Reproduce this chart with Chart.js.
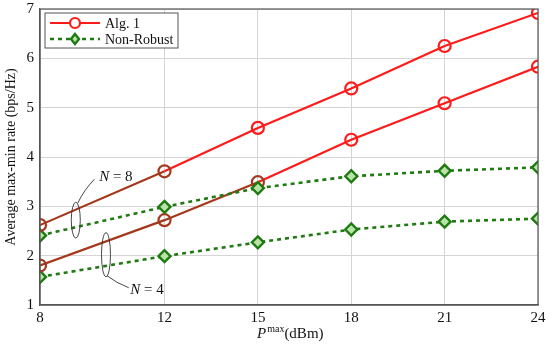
<!DOCTYPE html>
<html>
<head>
<meta charset="utf-8">
<script src="https://cdn.jsdelivr.net/npm/chart.js@4/dist/chart.umd.min.js"></script>
<style>
  html, body { margin: 0; padding: 0; background: #fff; }
  #wrap { width: 550px; height: 347px; position: relative; }
</style>
</head>
<body>
<div id="wrap"><canvas id="chart"></canvas></div>
<script>
// 데이터
const powerDbm = [8, 12, 15, 18, 21, 24];
const alg1N8 = [2.62, 3.71, 4.59, 5.39, 6.25, 6.92];
const alg1N4 = [1.80, 2.72, 3.49, 4.35, 5.09, 5.83];
const nonRobustN8 = [2.41, 2.99, 3.37, 3.61, 3.72, 3.79];
const nonRobustN4 = [1.57, 1.99, 2.27, 2.53, 2.69, 2.75];
const yTicks = [1, 2, 3, 4, 5, 6, 7];

const FONT = '"Liberation Serif", "DejaVu Serif", serif';
const RED = '#ff1a1a';
const BROWN = '#a5381c';
const GREEN = '#1f7a12';

const toPoints = (ys) => powerDbm.map((x, i) => ({ x: x, y: ys[i] }));

// 왼쪽 구간은 갈색으로 보임 (원본 그림 그대로)
function redSeries(label, ys, brownUntil) {
    return {
        label: label,
        data: toPoints(ys),
        borderColor: RED,
        borderWidth: 2.2,
        pointStyle: 'circle',
        pointRadius: 6,
        pointBorderWidth: 2.2,
        pointBackgroundColor: 'rgba(255,255,255,0)',
        pointBorderColor: ctx => (ctx.raw && ctx.raw.x <= brownUntil) ? BROWN : RED,
        segment: {
            borderColor: ctx => ctx.p1.parsed.x <= brownUntil ? BROWN : RED
        },
        tension: 0
    };
}

function greenSeries(label, ys) {
    return {
        label: label,
        data: toPoints(ys),
        borderColor: GREEN,
        borderWidth: 2.6,
        borderDash: [4, 4],
        pointStyle: 'rectRot',
        pointRadius: 6,
        pointBorderWidth: 2.4,
        pointBackgroundColor: '#b9e3a8',
        pointBorderColor: GREEN,
        tension: 0
    };
}

// 테두리, 범례, 축 제목, 주석
const decorPlugin = {
    id: 'decor',
    afterDraw(chart) {
        const { ctx, chartArea: a, scales } = chart;
        const xs = scales.x, ys = scales.y;
        ctx.save();

        // 플롯 테두리
        ctx.strokeStyle = '#555';
        ctx.lineWidth = 1.2;
        ctx.strokeRect(a.left, a.top, a.right - a.left, a.bottom - a.top);

        // 범례
        const lx = a.left + 5, ly = a.top + 4, lw = 133, lh = 35;
        ctx.fillStyle = '#fff';
        ctx.fillRect(lx, ly, lw, lh);
        ctx.strokeStyle = '#555';
        ctx.lineWidth = 1;
        ctx.strokeRect(lx, ly, lw, lh);

        ctx.font = '14px ' + FONT;
        ctx.textBaseline = 'middle';
        ctx.textAlign = 'left';

        let yy = ly + 10;
        ctx.strokeStyle = RED; ctx.lineWidth = 2.2; ctx.setLineDash([]);
        ctx.beginPath(); ctx.moveTo(lx + 5, yy); ctx.lineTo(lx + 55, yy); ctx.stroke();
        ctx.fillStyle = '#fff';
        ctx.beginPath(); ctx.arc(lx + 30, yy, 5, 0, Math.PI * 2); ctx.fill(); ctx.stroke();
        ctx.fillStyle = '#111';
        ctx.fillText('Alg. 1', lx + 60, yy + 1);

        yy = ly + 26;
        ctx.strokeStyle = GREEN; ctx.lineWidth = 2.6; ctx.setLineDash([4, 4]);
        ctx.beginPath(); ctx.moveTo(lx + 5, yy); ctx.lineTo(lx + 55, yy); ctx.stroke();
        ctx.setLineDash([]); ctx.lineWidth = 2.4;
        ctx.fillStyle = '#b9e3a8';
        ctx.beginPath();
        ctx.moveTo(lx + 30, yy - 5); ctx.lineTo(lx + 34, yy); ctx.lineTo(lx + 30, yy + 5); ctx.lineTo(lx + 26, yy);
        ctx.closePath(); ctx.fill(); ctx.stroke();
        ctx.fillStyle = '#111';
        ctx.fillText('Non-Robust', lx + 60, yy + 1);

        // x축 제목: P^max(dBm)
        const tx = (a.left + a.right) / 2 - 32, ty = a.bottom + 29;
        ctx.fillStyle = '#111';
        ctx.font = 'italic 15px ' + FONT;
        ctx.fillText('P', tx, ty);
        let w = ctx.measureText('P').width;
        ctx.font = '10px ' + FONT;
        ctx.fillText('max', tx + w + 1, ty - 5);
        w += ctx.measureText('max').width + 1;
        ctx.font = '15px ' + FONT;
        ctx.fillText('(dBm)', tx + w, ty);

        // y축 제목
        ctx.save();
        ctx.translate(11, (a.top + a.bottom) / 2);
        ctx.rotate(-Math.PI / 2);
        ctx.textAlign = 'center';
        ctx.font = '14px ' + FONT;
        ctx.fillText('Average max-min rate (bps/Hz)', 0, 0);
        ctx.restore();

        // 주석: 타원 + 지시선 + 라벨
        const px = v => xs.getPixelForValue(v);
        const py = v => ys.getPixelForValue(v);
        ctx.strokeStyle = '#333';
        ctx.lineWidth = 0.9;

        // N = 8
        let ex = px(9.15), ey = py(2.72);
        ctx.beginPath(); ctx.ellipse(ex, ey, 4.5, 18, 0, 0, Math.PI * 2); ctx.stroke();
        ctx.beginPath(); ctx.moveTo(ex + 2, ey - 17);
        ctx.quadraticCurveTo(ex + 8, ey - 30, px(9.75), py(3.55)); ctx.stroke();
        drawNLabel(ctx, px(9.9), py(3.6), '8');

        // N = 4
        ex = px(10.12); ey = py(2.02);
        ctx.beginPath(); ctx.ellipse(ex, ey, 4.5, 22, 0, 0, Math.PI * 2); ctx.stroke();
        ctx.beginPath(); ctx.moveTo(ex + 1, ey + 21);
        ctx.quadraticCurveTo(ex + 10, py(1.45), px(10.85), py(1.35)); ctx.stroke();
        drawNLabel(ctx, px(10.9), py(1.3), '4');

        ctx.restore();
    }
};

function drawNLabel(ctx, x, y, n) {
    ctx.fillStyle = '#111';
    ctx.textAlign = 'left';
    ctx.textBaseline = 'middle';
    ctx.font = 'italic 15px ' + FONT;
    ctx.fillText('N', x, y);
    const w = ctx.measureText('N').width;
    ctx.font = '15px ' + FONT;
    ctx.fillText(' = ' + n, x + w, y);
}

new Chart(document.getElementById('chart'), {
    type: 'line',
    data: {
        datasets: [
            redSeries('Alg. 1', alg1N8, 12),
            greenSeries('Non-Robust', nonRobustN8),
            redSeries('Alg. 1 (N=4)', alg1N4, 15),
            greenSeries('Non-Robust (N=4)', nonRobustN4)
        ]
    },
    options: {
        responsive: true,
        maintainAspectRatio: false,
        animation: false,
        layout: { padding: { left: 0, right: 12, top: 9, bottom: 0 } },
        plugins: {
            legend: { display: false },
            tooltip: { enabled: false }
        },
        scales: {
            x: {
                type: 'linear',
                min: 8,
                max: 24,
                afterBuildTicks: s => { s.ticks = powerDbm.map(v => ({ value: v })); },
                afterFit: s => { s.height = 42; s.paddingLeft = 0; s.paddingRight = 0; },
                grid: { color: '#d4d4d4', lineWidth: 1, drawTicks: false },
                border: { color: '#555', width: 1.2 },
                ticks: {
                    color: '#111',
                    padding: 4,
                    maxRotation: 0,
                    font: { family: FONT, size: 15 }
                }
            },
            y: {
                type: 'linear',
                min: 1,
                max: 7,
                afterBuildTicks: s => { s.ticks = yTicks.map(v => ({ value: v })); },
                afterFit: s => { s.width = 40; s.paddingTop = 0; s.paddingBottom = 0; },
                grid: { color: '#d4d4d4', lineWidth: 1, drawTicks: false },
                border: { color: '#555', width: 1.2 },
                ticks: {
                    color: '#111',
                    padding: 6,
                    font: { family: FONT, size: 15 }
                }
            }
        }
    },
    plugins: [decorPlugin]
});
</script>
</body>
</html>
